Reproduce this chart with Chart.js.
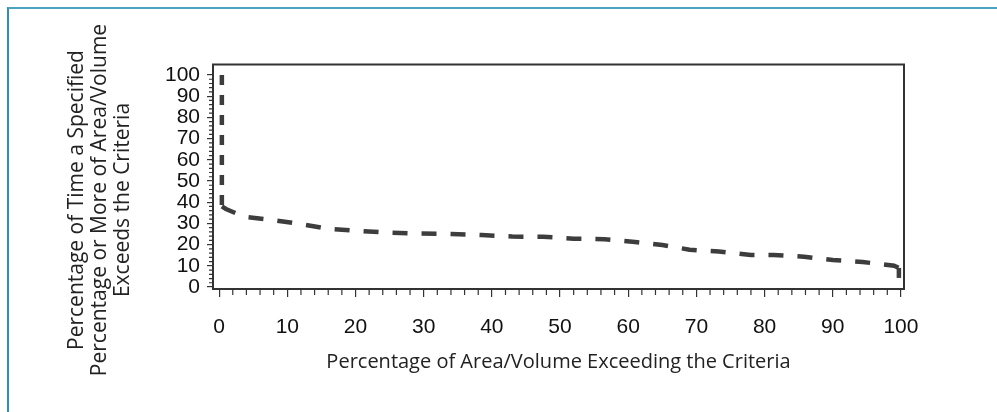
<!DOCTYPE html>
<html>
<head>
<meta charset="utf-8">
<script src="https://cdn.jsdelivr.net/npm/chart.js@4"></script>
<style>
  body { margin: 0; background: #fff; }
  #wrap { position: relative; width: 997px; height: 412px; overflow: hidden; }
  #frame { position: absolute; left: 7px; top: 7px; width: 1000px; height: 420px;
           border-top: 2px solid #4aa1c2; border-left: 2px solid #2f8fb5; }
  canvas { position: absolute; left: 0; top: 0; }
</style>
</head>
<body>
<div id="wrap">
  <div id="frame"></div>
  <canvas id="chart" width="997" height="412"></canvas>
</div>
<script>
// tick labels
const xTicks = [0, 10, 20, 30, 40, 50, 60, 70, 80, 90, 100];
const yTicks = [0, 10, 20, 30, 40, 50, 60, 70, 80, 90, 100];

// exceedance curve
const pctArea = [0.4, 0.4, 1, 3.6, 7.8, 12, 16, 20.6, 25, 29.5, 34, 38.5, 43, 47.5, 52, 56.5,
                 61, 65, 69, 73.3, 78, 81.3, 85.8, 90, 94.4, 99, 99.7, 99.7];
const pctTime = [100, 38, 36.8, 33.2, 31.6, 29.7, 27.4, 26.4, 25.6, 25.2, 25, 24.5, 23.8, 23.7, 22.8, 22.5,
                 21.2, 19.8, 17.6, 16.7, 15.1, 15.1, 14.3, 12.7, 11.8, 10, 9, 0];

const xTitle = 'Percentage of Area/Volume Exceeding the Criteria';
const yTitle = ['Percentage of Time a Specified',
                'Percentage or More of Area/Volume',
                'Exceeds the Criteria'];

const points = pctArea.map((x, i) => ({ x: x, y: pctTime[i] }));

// frame, minor ticks and the rotated y title
const extras = {
  id: 'extras',
  afterDraw(chart) {
    const { ctx, chartArea: a, scales } = chart;
    ctx.save();
    ctx.strokeStyle = '#333';
    ctx.lineWidth = 2;
    ctx.strokeRect(a.left, a.top, a.right - a.left, a.bottom - a.top);

    ctx.lineWidth = 1.2;
    ctx.beginPath();
    for (let v = 0; v <= 100; v += 2) {
      if (v % 10 === 0) continue;
      const px = scales.x.getPixelForValue(v);
      ctx.moveTo(px, a.bottom);
      ctx.lineTo(px, a.bottom + 6);
      const py = scales.y.getPixelForValue(v);
      ctx.moveTo(a.left, py);
      ctx.lineTo(a.left - 4, py);
    }
    ctx.stroke();

    ctx.fillStyle = '#222';
    ctx.font = '21px "Open Sans"';
    ctx.textAlign = 'center';
    ctx.textBaseline = 'middle';
    ctx.translate(100, 200);
    ctx.rotate(-Math.PI / 2);
    yTitle.forEach((t, i) => ctx.fillText(t, 0, (i - 1) * 23));
    ctx.restore();
  }
};

new Chart(document.getElementById('chart'), {
  type: 'scatter',
  data: {
    datasets: [{
      data: points,
      showLine: true,
      borderColor: '#3d3d3d',
      borderWidth: 4.5,
      pointRadius: 0,
      borderDash: [15, 14],
      segment: {
        borderDash: c => (c.p0.parsed.x === c.p1.parsed.x ? [10, 10] : [15, 14])
      }
    }]
  },
  options: {
    responsive: false,
    animation: false,
    layout: { padding: { left: 0, top: 64.5, right: 93, bottom: 0 } },
    plugins: { legend: { display: false }, tooltip: { enabled: false } },
    scales: {
      x: {
        type: 'linear',
        min: -0.9,
        max: 100.45,
        afterFit: s => { s.height = 123; },
        afterBuildTicks: s => { s.ticks = xTicks.map(v => ({ value: v })); },
        grid: { drawOnChartArea: false, drawTicks: true, tickLength: 8, color: '#333', lineWidth: 1.2 },
        border: { display: false },
        ticks: { color: '#111', font: { family: '"Liberation Sans", Arial', size: 21 }, padding: 18,
                 maxRotation: 0, autoSkip: false },
        title: { display: true, text: xTitle, color: '#222',
                 font: { family: '"Open Sans"', size: 20 }, padding: { top: 0, bottom: 38 } }
      },
      y: {
        type: 'linear',
        min: -0.94,
        max: 104.95,
        afterFit: s => { s.width = 213; },
        afterBuildTicks: s => { s.ticks = yTicks.map(v => ({ value: v })); },
        grid: { drawOnChartArea: false, drawTicks: true, tickLength: 6, color: '#333', lineWidth: 1.2 },
        border: { display: false },
        ticks: { color: '#111', font: { family: '"Liberation Sans", Arial', size: 21 }, padding: 7,
                 autoSkip: false }
      }
    }
  },
  plugins: [extras]
});
</script>
</body>
</html>
